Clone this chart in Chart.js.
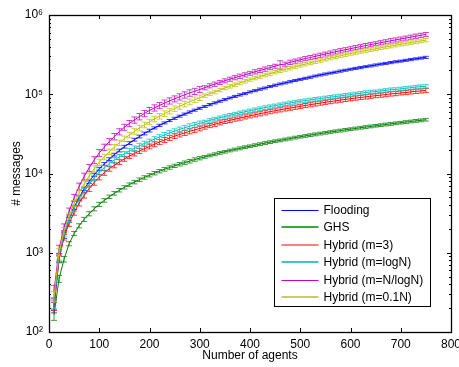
<!DOCTYPE html>
<html>
<head>
<meta charset="utf-8">
<script src="https://cdn.jsdelivr.net/npm/chart.js@4.4.1/dist/chart.umd.min.js"></script>
<style>
  html, body { margin: 0; padding: 0; background: #fff; }
  canvas { display: block; }
</style>
</head>
<body>
<canvas id="chart" width="459" height="367"></canvas>
<script>
// number of agents (x)
const agents = [10,20,30,40,50,60,70,80,90,100,
  110,120,130,140,150,160,170,180,190,200,
  210,220,230,240,250,260,270,280,290,300,
  310,320,330,340,350,360,370,380,390,400,
  410,420,430,440,450,460,470,480,490,500,
  510,520,530,540,550,560,570,580,590,600,
  610,620,630,640,650,660,670,680,690,700,
  710,720,730,740,750];

// # messages
const flooding = [205,850,1650,2600,3750,5000,6400,7900,9600,11400,
  13200,15200,17300,19500,21800,24200,26700,29300,32000,34800,
  37600,40500,43500,46600,49700,52900,56200,59600,63000,66500,
  70200,74000,77800,81700,85700,89800,93900,98100,102000,107000,
  111000,116000,120000,125000,130000,135000,139000,144000,149000,154000,
  159000,164000,170000,175000,180000,185000,190000,196000,201000,207000,
  212000,217000,223000,228000,234000,240000,245000,251000,257000,262000,
  268000,274000,280000,286000,292000];
const ghs = [165,470,830,1300,1750,2190,2640,3110,3590,4080,
  4580,5090,5620,6150,6690,7240,7790,8350,8920,9500,
  10100,10700,11300,11900,12500,13100,13700,14300,15000,15600,
  16200,16900,17500,18200,18800,19500,20100,20800,21500,22100,
  22800,23500,24200,24900,25600,26200,26900,27600,28400,29100,
  29800,30500,31200,31900,32600,33400,34100,34800,35600,36300,
  37000,37800,38500,39300,40000,40800,41500,42300,43000,43800,
  44600,45300,46100,46900,47700];
const hybrid3 = [220,830,1570,2340,3230,4230,5320,6460,7720,9010,
  10200,11500,12700,14000,15300,16600,17900,19300,20600,21900,
  23400,25000,26500,28100,29600,31100,32500,34100,35500,37000,
  38600,40300,41900,43600,45300,46900,48600,50100,51800,53400,
  55100,56800,58500,60300,61900,63600,65300,67000,68600,70300,
  72100,73800,75600,77400,79100,80900,82600,84400,86100,87800,
  89500,91100,92700,94300,95900,97500,99100,101000,102000,104000,
  105000,107000,109000,110000,112000];
const hybridLogN = [231,896,1730,2620,3620,4780,6010,7300,8800,10500,
  11800,13300,14800,16200,17700,19300,20800,22400,23900,25400,
  27200,28900,30700,32500,34300,36000,37800,39500,41200,42900,
  44800,46800,48600,50600,52500,54400,56300,58200,60100,61900,
  63900,65900,67900,69900,71800,73800,75800,77700,79600,81500,
  83200,84900,86600,88200,90200,91800,93700,95300,97300,99200,
  101000,103000,105000,107000,108000,110000,112000,114000,115000,117000,
  119000,121000,123000,125000,126000];
const hybridNLogN = [328,1110,2100,3330,4950,6880,9170,11800,14800,18200,
  21500,25300,29300,33700,38400,42800,47400,52300,57300,62600,
  67400,72300,77400,82600,87700,93000,98400,104000,109000,115000,
  121000,128000,134000,141000,148000,155000,162000,169000,176000,184000,
  192000,200000,208000,217000,226000,236000,240000,253000,262000,272000,
  282000,291000,301000,311000,322000,332000,343000,354000,365000,376000,
  388000,399000,411000,423000,435000,447000,460000,473000,485000,499000,
  512000,526000,540000,555000,569000];
const hybrid01N = [281,1020,1900,2910,4200,5700,7420,9320,11500,13900,
  16200,18800,21500,24400,27500,30600,34000,37500,41100,44900,
  48800,52800,57000,61400,65900,70500,75300,80200,85200,90400,
  96000,102000,107000,113000,120000,126000,132000,139000,146000,153000,
  160000,167000,175000,182000,190000,198000,206000,214000,223000,232000,
  240000,249000,258000,267000,277000,286000,296000,306000,316000,326000,
  336000,346000,356000,365000,375000,386000,396000,406000,417000,428000,
  438000,449000,460000,471000,482000];

// error bar half-heights, in percent of the value
const errFlooding = [15,10,8,7,6,5,5,5,5,5,
  4,4,4,4,4,4,4,4,4,4,
  3,3.2,2.9,3,3.1,2.8,3,3.2,3,2.9,
  3,3.2,2.9,3,3.1,2.8,3,3.2,3,2.9,
  3,3.2,2.9,3,3.1,2.8,3,3.2,3,2.9,
  3,3.2,2.9,3,3.1,2.8,3,3.2,3,2.9,
  3,3.2,2.9,3,3.1,2.8,3,3.2,3,2.9,
  3,3.2,2.9,3,3.1];
const errGhs = [15,10,8,6,6,6,6,6,6,6,
  5,5,5.2,5,4.8,5,5,5.2,5,4.8,
  5,5,5.2,5,4.8,5,5,5.2,5,4.8,
  4,4,4.2,4,3.8,4,4,4.2,4,3.8,
  4,4,4.2,4,3.8,4,4,4.2,4,3.8,
  4,4,4.2,4,3.8,4,4,4.2,4,3.8,
  4,4,4.2,4,3.8,4,4,4.2,4,3.8,
  4,4,4.2,4,3.8];
const errHybrid3 = [15,10,8,8,8,8,8,8,8,8,
  7,7,7.2,7,6.8,7,7,7.2,7,6.8,
  7,7,7.2,7,6.8,7,7,7.2,7,6.8,
  6,6,6.2,6,5.8,6,6,6.2,6,5.8,
  6,6,6.2,6,5.8,6,6,6.2,6,5.8,
  6,6,6.2,6,5.8,6,6,6.2,6,5.8,
  6,6,6.2,6,5.8,6,6,6.2,6,5.8,
  6,6,6.2,6,5.8];
const errHybridLogN = [15,10,8,8,8,8,8,8,8,8,
  7,7,7.2,7,6.8,7,7,7.2,7,6.8,
  7,7,7.2,7,6.8,7,7,7.2,7,6.8,
  5,5,5.2,5,4.8,5,5,5.2,5,4.8,
  5,5,5.2,5,4.8,5,5,5.2,5,4.8,
  5,5,5.2,5,4.8,5,5,5.2,5,4.8,
  5,5,5.2,5,4.8,5,5,5.2,5,4.8,
  5,5,5.2,5,4.8];
const errHybridNLogN = [18,12,10,10,10,10,10,10,10,10,
  9,9,9.3,9,8.7,9,9,9.3,9,8.7,
  9,9,9.3,9,8.7,9,9,9.3,9,8.7,
  6,6,6.3,6,5.7,6,6,6.3,6,5.7,
  6,6,6.3,6,5.7,12,6,6.3,6,5.7,
  6,6,6.3,6,5.7,6,6,6.3,6,5.7,
  6,6,6.3,6,5.7,6,6,6.3,6,5.7,
  6,6,6.3,6,5.7];
const errHybrid01N = [15,10,9,9,9,9,9,9,9,9,
  8,8,8.2,8,7.8,8,8,8.2,8,7.8,
  8,8,8.2,8,7.8,8,8,8.2,8,7.8,
  5,5,5.2,5,4.8,5,5,5.2,5,4.8,
  5,5,5.2,5,4.8,5,5,5.2,5,4.8,
  5,5,5.2,5,4.8,5,5,5.2,5,4.8,
  5,5,5.2,5,4.8,5,5,5.2,5,4.8,
  5,5,5.2,5,4.8];

const seriesNames = ['Flooding', 'GHS', 'Hybrid (m=3)', 'Hybrid (m=logN)', 'Hybrid (m=N/logN)', 'Hybrid (m=0.1N)'];
const seriesValues = [flooding, ghs, hybrid3, hybridLogN, hybridNLogN, hybrid01N];
const seriesErrors = [errFlooding, errGhs, errHybrid3, errHybridLogN, errHybridNLogN, errHybrid01N];
const lineColors = ['#0000ff', '#008000', '#ff0000', '#00bfbf', '#bf00bf', '#bfbf00'];
const legendColors = ['#0000ff', '#3aa83a', '#ff8080', '#40c4c4', '#c800c8', '#cccc66'];
const legendWidths = [1, 2, 2, 2, 1, 2];

const xTicks = [0, 100, 200, 300, 400, 500, 600, 700, 800];
const yTicks = [1e2, 1e3, 1e4, 1e5, 1e6];
const sup = ['\u2070', '\u00b9', '\u00b2', '\u00b3', '\u2074', '\u2075', '\u2076'];

Chart.defaults.font.family = "'Liberation Sans', Arial, sans-serif";
Chart.defaults.font.size = 12;
Chart.defaults.color = '#000';

// vertical error bars with tees, drawn right after each line
const errorBars = {
  id: 'errorBars',
  afterDatasetDraw(chart, args) {
    const ds = chart.data.datasets[args.index];
    if (!ds.errors) return;
    const { ctx, chartArea } = chart;
    const y = chart.scales.y;
    ctx.save();
    ctx.beginPath();
    ctx.rect(chartArea.left, chartArea.top, chartArea.width, chartArea.height);
    ctx.clip();
    ctx.strokeStyle = ds.borderColor;
    ctx.globalAlpha = 0.75;
    ctx.lineWidth = 1;
    ctx.beginPath();
    args.meta.data.forEach((pt, i) => {
      const v = ds.data[i].y;
      const e = v * ds.errors[i] / 100;
      const top = y.getPixelForValue(v + e);
      const bot = y.getPixelForValue(v - e);
      ctx.moveTo(pt.x, top); ctx.lineTo(pt.x, bot);
      ctx.moveTo(pt.x - 3, top); ctx.lineTo(pt.x + 3, top);
      ctx.moveTo(pt.x - 3, bot); ctx.lineTo(pt.x + 3, bot);
    });
    ctx.stroke();
    ctx.restore();
  }
};

// matlab style box with inward ticks
const axesBox = {
  id: 'axesBox',
  afterDatasetsDraw(chart) {
    const { ctx, chartArea: a, scales } = chart;
    ctx.save();
    ctx.strokeStyle = '#000';
    ctx.lineWidth = 1;
    ctx.beginPath();
    xTicks.forEach(v => {
      const x = Math.round(scales.x.getPixelForValue(v)) + 0.5;
      ctx.moveTo(x, a.bottom); ctx.lineTo(x, a.bottom - 4);
      ctx.moveTo(x, a.top); ctx.lineTo(x, a.top + 4);
    });
    yTicks.forEach((v, k) => {
      const yy = Math.round(scales.y.getPixelForValue(v)) + 0.5;
      ctx.moveTo(a.left, yy); ctx.lineTo(a.left + 4, yy);
      ctx.moveTo(a.right, yy); ctx.lineTo(a.right - 4, yy);
      if (k === yTicks.length - 1) return;
      for (let m = 2; m <= 9; m++) {
        const ym = Math.round(scales.y.getPixelForValue(v * m)) + 0.5;
        ctx.moveTo(a.left, ym); ctx.lineTo(a.left + 2, ym);
        ctx.moveTo(a.right, ym); ctx.lineTo(a.right - 2, ym);
      }
    });
    ctx.stroke();
    ctx.lineWidth = 1.3;
    ctx.strokeRect(Math.round(a.left) + 0.5, Math.round(a.top) + 0.5,
      Math.round(a.right - a.left), Math.round(a.bottom - a.top));
    ctx.restore();
  }
};

// legend box in the lower right corner
const boxLegend = {
  id: 'boxLegend',
  afterDraw(chart) {
    const { ctx, chartArea: a } = chart;
    const rowH = 17.5;
    const w = 156, h = 108;
    const x0 = Math.round(a.right - 21 - w) + 0.5;
    const y0 = Math.round(a.bottom - 26 - h) + 0.5;
    ctx.save();
    ctx.fillStyle = '#fff';
    ctx.fillRect(x0, y0, w, h);
    ctx.strokeStyle = '#000';
    ctx.lineWidth = 1;
    ctx.strokeRect(x0, y0, w, h);
    ctx.font = "12px 'Liberation Sans', Arial, sans-serif";
    ctx.textBaseline = 'middle';
    ctx.fillStyle = '#000';
    chart.data.datasets.forEach((ds, i) => {
      const yc = Math.round(y0 + 11 + i * rowH);
      const ly = legendWidths[i] % 2 === 1 ? yc + 0.5 : yc;
      ctx.strokeStyle = legendColors[i];
      ctx.lineWidth = legendWidths[i];
      ctx.beginPath();
      ctx.moveTo(x0 + 7, ly); ctx.lineTo(x0 + 44, ly);
      ctx.stroke();
      ctx.fillText(ds.label, x0 + 49, yc + 0.5);
    });
    ctx.restore();
  }
};

const datasets = seriesNames.map((name, i) => ({
  label: name,
  data: agents.map((n, j) => ({ x: n, y: seriesValues[i][j] })),
  errors: seriesErrors[i],
  borderColor: lineColors[i],
  backgroundColor: lineColors[i],
  borderWidth: 1,
  pointRadius: 0,
  tension: 0,
  fill: false,
  order: seriesNames.length - i
}));

new Chart(document.getElementById('chart'), {
  type: 'line',
  data: { datasets },
  options: {
    responsive: false,
    animation: false,
    devicePixelRatio: 1,
    layout: { padding: { top: 15, right: 8, left: 0, bottom: 0 } },
    plugins: {
      legend: { display: false },
      tooltip: { enabled: false }
    },
    scales: {
      x: {
        type: 'linear',
        min: 0,
        max: 800,
        grid: { display: false, drawTicks: false },
        border: { display: false },
        afterBuildTicks: (s) => { s.ticks = xTicks.map(v => ({ value: v })); },
        afterFit: (s) => { s.height = 35; s.paddingLeft = 0; s.paddingRight = 0; },
        ticks: { padding: 5, maxRotation: 0, autoSkip: false, callback: (v) => String(v) },
        title: { display: true, text: 'Number of agents', padding: { top: 0, bottom: 4 } }
      },
      y: {
        type: 'logarithmic',
        min: 1e2,
        max: 1e6,
        grid: { display: false, drawTicks: false },
        border: { display: false },
        afterBuildTicks: (s) => { s.ticks = yTicks.map(v => ({ value: v })); },
        afterFit: (s) => { s.width = 49; s.paddingTop = 0; s.paddingBottom = 0; },
        ticks: {
          padding: 6,
          autoSkip: false,
          callback: (v) => '10' + sup[Math.round(Math.log10(v))]
        },
        title: { display: true, text: '# messages', padding: { top: 9, bottom: 0 } }
      }
    }
  },
  plugins: [errorBars, axesBox, boxLegend]
});
</script>
</body>
</html>
